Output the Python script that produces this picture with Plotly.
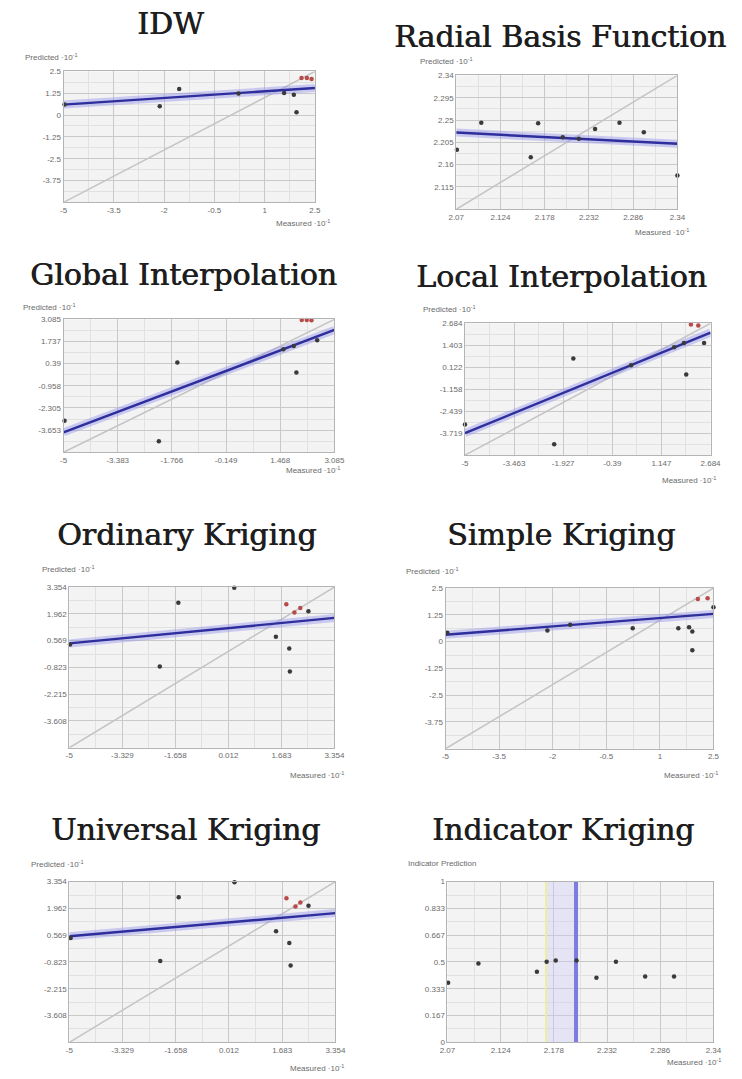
import numpy as np
import plotly.graph_objects as go

W, H = 742, 1079

# ---------------- data ----------------
# IDW
idw_measured = [-4.97, -2.13, -1.55, 0.22, 1.58, 1.87, 1.95, 2.10, 2.26, 2.40]
idw_predicted = [0.60, 0.51, 1.49, 1.23, 1.27, 1.17, 0.16, 2.12, 2.12, 2.06]
idw_hot = [0, 0, 0, 0, 0, 0, 0, 1, 1, 1]
idw_fit = [0.60, 1.55]
idw_xlabels = ["-5", "-3.5", "-2", "-0.5", "1", "2.5"]
idw_ylabels = ["", "-3.75", "-2.5", "-1.25", "0", "1.25", "2.5"]

# Radial Basis Function
rbf_measured = [2.0708, 2.1006, 2.161, 2.170, 2.200, 2.2197, 2.2395, 2.2693, 2.299, 2.340]
rbf_predicted = [2.190, 2.2447, 2.1747, 2.2433, 2.2153, 2.212, 2.232, 2.2447, 2.2253, 2.138]
rbf_hot = [0] * 10
rbf_fit = [2.2247, 2.202]
rbf_xlabels = ["2.07", "2.124", "2.178", "2.232", "2.286", "2.34"]
rbf_ylabels = ["", "2.115", "2.16", "2.205", "2.25", "2.295", "2.34"]

# Global Interpolation
gi_measured = [-4.97, -2.156, -1.603, 1.561, 1.872, 1.95, 2.57, 2.11, 2.26, 2.40]
gi_predicted = [-3.08, -4.33, 0.457, 1.266, 1.468, -0.149, 1.812, 3.045, 3.045, 3.03]
gi_hot = [0, 0, 0, 0, 0, 0, 0, 1, 1, 1]
gi_fit = [-3.787, 2.438]
gi_xlabels = ["-5", "-3.383", "-1.766", "-0.149", "1.468", "3.085"]
gi_ylabels = ["", "-3.653", "-2.305", "-0.958", "0.39", "1.737", "3.085"]

# Local Interpolation
li_measured = [-5.0, -2.209, -1.610, 0.197, 1.547, 1.852, 1.923, 2.481, 2.07, 2.30]
li_predicted = [-3.213, -4.366, 0.629, 0.244, 1.282, 1.531, -0.294, 1.531, 2.62, 2.55]
li_hot = [0, 0, 0, 0, 0, 0, 0, 0, 1, 1]
li_fit = [-3.713, 2.146]
li_xlabels = ["-5", "-3.463", "-1.927", "-0.39", "1.147", "2.684"]
li_ylabels = ["", "-3.719", "-2.439", "-1.158", "0.122", "1.403", "2.684"]

# Ordinary Kriging
ok_measured = [-4.98, -2.15, -1.566, 0.197, 1.509, 1.837, 1.93, 1.95, 2.093, 2.278, 2.534]
ok_predicted = [0.374, -0.78, 2.544, 3.32, 0.77, 2.458, 0.167, -1.038, 2.028, 2.269, 2.097]
ok_hot = [0, 0, 0, 0, 0, 1, 0, 0, 1, 1, 0]
ok_fit = [0.426, 1.752]
ok_xlabels = ["-5", "-3.329", "-1.658", "0.012", "1.683", "3.354"]
ok_ylabels = ["", "-3.608", "-2.215", "-0.823", "0.569", "1.962", "3.354"]

# Simple Kriging
sk_measured = [-4.95, -2.148, -1.51, 0.24, 1.516, 1.817, 1.908, 1.908, 2.063, 2.336, 2.50]
sk_predicted = [0.41, 0.52, 0.784, 0.629, 0.629, 0.675, 0.474, -0.407, 1.99, 2.02, 1.603]
sk_hot = [0, 0, 0, 0, 0, 0, 0, 0, 1, 1, 0]
sk_fit = [0.32, 1.294]
sk_xlabels = idw_xlabels
sk_ylabels = idw_ylabels

# Universal Kriging
uk_measured = [-4.96, -2.147, -1.567, 0.186, 1.49, 1.816, 1.907, 1.948, 2.10, 2.254, 2.509]
uk_predicted = [0.426, -0.78, 2.544, 3.32, 0.77, 2.493, 0.167, -1.004, 2.062, 2.269, 2.097]
uk_hot = [0, 0, 0, 0, 0, 1, 0, 0, 1, 1, 0]
uk_fit = [0.512, 1.718]
uk_xlabels = ok_xlabels
uk_ylabels = ok_ylabels

# Indicator Kriging
ik_measured = [2.0707, 2.1014, 2.1608, 2.1707, 2.1799, 2.201, 2.2212, 2.241, 2.2707, 2.300, 2.3406]
ik_prediction = [0.370, 0.491, 0.439, 0.501, 0.509, 0.509, 0.402, 0.501, 0.409, 0.409, 0.402]
ik_threshold = 2.2005
ik_band = [2.170, 2.2005]
ik_xlabels = rbf_xlabels
ik_ylabels = ["0", "0.167", "0.333", "0.5", "0.667", "0.833", "1"]

# ---------------- style ----------------
BG = "#f3f3f3"
GRID = "#c9c9c9"
MINOR = "#e1e1e1"
FRAME = "#b4b4b4"
TICKFONT = dict(family="Liberation Sans, Arial", size=8, color="#6a6a6a")
SMALLFONT = dict(family="Liberation Sans, Arial", size=8, color="#6a6a6a")
# regular serif thickened slightly with a 1-sided shadow for a demi-bold look
TITLEFONT = dict(family="DejaVu Serif", size=30, color="#1e1e1e",
                 shadow="0.7px 0px 0px #1e1e1e")
DOT = "#3a3a3a"
HOT = "#b94a4a"

fig = go.Figure()
annotations = []


def px_x(p):
    return p / W


def px_y(p):
    return 1 - p / H


def add_panel(i, title, box, title_pos, ytitle_pos, xtitle_pos, ytitle,
              xs, ys, hot, fit, xr, yr, xlabels, ylabels,
              diagonal=True):
    xa = "x" if i == 1 else f"x{i}"
    ya = "y" if i == 1 else f"y{i}"
    x0, y0, x1, y1 = box
    xt = np.linspace(xr[0], xr[1], len(xlabels))
    yt = np.linspace(yr[0], yr[1], len(ylabels))
    xstep = xt[1] - xt[0]
    ystep = yt[1] - yt[0]
    # only label the y ticks that carry text
    ykeep = [k for k, s in enumerate(ylabels) if s]
    common = dict(showgrid=True, gridcolor=GRID, gridwidth=1, zeroline=False,
                  showline=True, linecolor=FRAME, linewidth=1, mirror=True,
                  ticks="", tickfont=TICKFONT, fixedrange=True)
    fig.layout[("xaxis" if i == 1 else f"xaxis{i}")] = dict(
        domain=[px_x(x0), px_x(x1)], range=list(xr), anchor=ya,
        tickmode="array", tickvals=list(xt), ticktext=xlabels,
        minor=dict(tickmode="linear", tick0=xr[0], dtick=xstep / 2,
                   showgrid=True, gridcolor=MINOR, ticks=""),
        **common)
    fig.layout[("yaxis" if i == 1 else f"yaxis{i}")] = dict(
        domain=[px_y(y1), px_y(y0)], range=list(yr), anchor=xa,
        tickmode="array", tickvals=[yt[k] for k in ykeep],
        ticktext=[ylabels[k] for k in ykeep],
        minor=dict(tickmode="linear", tick0=yr[0], dtick=ystep / 2,
                   showgrid=True, gridcolor=MINOR, ticks=""),
        **common)

    if diagonal:
        fig.add_trace(go.Scatter(x=list(xr), y=list(xr), mode="lines",
                                 line=dict(color="#c4c4c4", width=1.5),
                                 xaxis=xa, yaxis=ya, hoverinfo="skip"))
    if fit is not None:
        fig.add_trace(go.Scatter(x=list(xr), y=fit, mode="lines",
                                 line=dict(color="rgba(150,150,235,0.45)", width=8),
                                 xaxis=xa, yaxis=ya, hoverinfo="skip"))
        fig.add_trace(go.Scatter(x=list(xr), y=fit, mode="lines",
                                 line=dict(color="#2e2e9c", width=2.4),
                                 xaxis=xa, yaxis=ya, hoverinfo="skip"))
    colors = [HOT if h else DOT for h in hot]
    fig.add_trace(go.Scatter(x=xs, y=ys, mode="markers",
                             marker=dict(size=4.5, color=colors, symbol="circle"),
                             xaxis=xa, yaxis=ya, cliponaxis=False))

    annotations.append(dict(text=title, x=px_x(title_pos[0]), y=px_y(title_pos[1]),
                            xref="paper", yref="paper", showarrow=False,
                            xanchor="center", yanchor="middle", font=TITLEFONT))
    annotations.append(dict(text=ytitle, x=px_x(ytitle_pos[0]), y=px_y(ytitle_pos[1]),
                            xref="paper", yref="paper", showarrow=False,
                            xanchor="left", yanchor="middle", font=SMALLFONT))
    annotations.append(dict(text="Measured ·10<sup>-1</sup>", x=px_x(xtitle_pos[0]),
                            y=px_y(xtitle_pos[1]), xref="paper", yref="paper",
                            showarrow=False, xanchor="right", yanchor="middle",
                            font=SMALLFONT))


PRED = "Predicted ·10<sup>-1</sup>"

add_panel(1, "IDW", (57, 68, 315, 200), (167, 20), (15, 53), (333, 221), PRED,
          idw_measured, idw_predicted, idw_hot, idw_fit, (-5, 2.5), (-5, 2.5),
          idw_xlabels, idw_ylabels)
add_panel(2, "Radial Basis Function", (460, 72, 687, 207), (566, 33), (421, 57), (701, 230), PRED,
          rbf_measured, rbf_predicted, rbf_hot, rbf_fit, (2.07, 2.34), (2.07, 2.34),
          rbf_xlabels, rbf_ylabels)
add_panel(3, "Global Interpolation", (57, 318, 335, 452), (180, 273), (13, 306), (343, 470), PRED,
          gi_measured, gi_predicted, gi_hot, gi_fit, (-5, 3.085), (-5, 3.085),
          gi_xlabels, gi_ylabels)
add_panel(4, "Local Interpolation", (469, 322, 721, 455), (568, 275), (424, 308), (729, 480), PRED,
          li_measured, li_predicted, li_hot, li_fit, (-5, 2.684), (-5, 2.684),
          li_xlabels, li_ylabels)
add_panel(5, "Ordinary Kriging", (63, 588, 335, 750), (183, 535), (33, 570), (347, 777), PRED,
          ok_measured, ok_predicted, ok_hot, ok_fit, (-5, 3.354), (-5, 3.354),
          ok_xlabels, ok_ylabels)
add_panel(6, "Simple Kriging", (449, 589, 724, 751), (568, 535), (406, 572), (731, 777), PRED,
          sk_measured, sk_predicted, sk_hot, sk_fit, (-5, 2.5), (-5, 2.5),
          sk_xlabels, sk_ylabels)
add_panel(7, "Universal Kriging", (63, 885, 336, 1047), (182, 832), (22, 867), (347, 1073), PRED,
          uk_measured, uk_predicted, uk_hot, uk_fit, (-5, 3.354), (-5, 3.354),
          uk_xlabels, uk_ylabels)

# Indicator kriging: threshold band and line drawn beneath the points
fig.add_trace(go.Scatter(x=[ik_band[0], ik_band[1], ik_band[1], ik_band[0], ik_band[0]],
                         y=[0, 0, 1, 1, 0], fill="toself", mode="lines",
                         fillcolor="rgba(200,200,245,0.35)", line=dict(width=0),
                         xaxis="x8", yaxis="y8", hoverinfo="skip"))
fig.add_trace(go.Scatter(x=[ik_band[0], ik_band[0]], y=[0, 1], mode="lines",
                         line=dict(color="#eeeea0", width=2),
                         xaxis="x8", yaxis="y8", hoverinfo="skip"))
fig.add_trace(go.Scatter(x=[ik_threshold, ik_threshold], y=[0, 1], mode="lines",
                         line=dict(color="#7c7ce0", width=4),
                         xaxis="x8", yaxis="y8", hoverinfo="skip"))
add_panel(8, "Indicator Kriging", (451, 885, 724, 1047), (570, 832), (408, 867), (734, 1067),
          "Indicator Prediction",
          ik_measured, ik_prediction, [0] * len(ik_measured), None, (2.07, 2.34), (0, 1),
          ik_xlabels, ik_ylabels, diagonal=False)

fig.update_layout(width=W, height=H, margin=dict(l=0, r=0, t=0, b=0),
                  paper_bgcolor="white", plot_bgcolor=BG, showlegend=False,
                  annotations=annotations)

fig.write_html("out.html")
